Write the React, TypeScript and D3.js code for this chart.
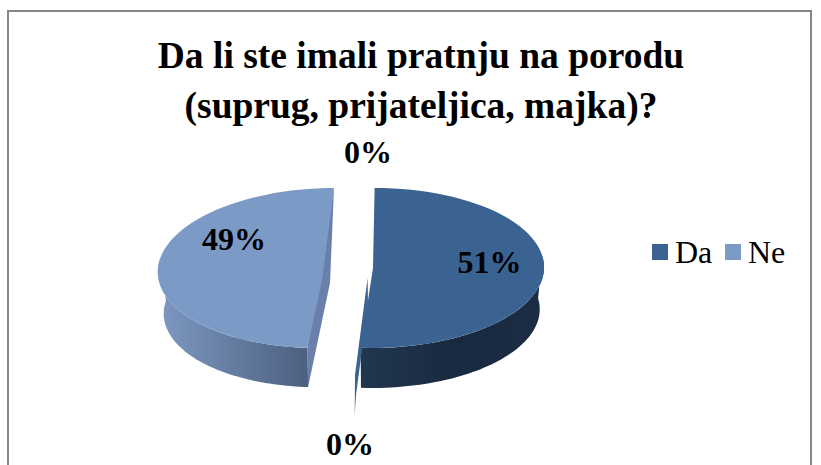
import React from "react";
import * as d3 from "d3";

const categories = ["Da", "Ne", "", ""];
const values = [51, 49, 0, 0];
const titleLines = ["Da li ste imali pratnju na porodu", "(suprug, prijateljica, majka)?"];
const labels = ["51%", "49%", "0%", "0%"];
const colors = ["#3a6392", "#7c9ac6"];

const W = 821, H = 465;
const pie = d3.pie<number>().sort(null)(values);
const depth = 42;

type G = { cx: number; cy: number; rx: number; ry: number; shear: number; shrink: number };
const geoms: G[] = [
  { cx: 373, cy: 268, rx: 171, ry: 80, shear: -0.02, shrink: 0.975 },
  { cx: 326, cy: 268, rx: 168, ry: 80, shear: -0.1, shrink: 0.965 },
];
const pt = (g: G, a: number, d = 0): [number, number] => {
  const s = d ? g.shrink : 1;
  const y = -Math.cos(a) * g.ry * s;
  const x = Math.sin(a) * g.rx * s + g.shear * y;
  return [g.cx + x, g.cy + y + d];
};
const line = d3.line();
const arcPts = (g: G, a0: number, a1: number, d = 0) =>
  d3.range(0, 61).map((i) => pt(g, a0 + ((a1 - a0) * i) / 60, d));

export default function App() {
  const [da, ne] = [pie[0], pie[1]];
  const g0 = geoms[0], g1 = geoms[1];
  const topR = line([[g0.cx, g0.cy], ...arcPts(g0, da.startAngle, da.endAngle)]) + "Z";
  const topL = line([[g1.cx - 4, g1.cy + 12], ...arcPts(g1, ne.startAngle, ne.endAngle)]) + "Z";
  const sideR = line([
    ...arcPts(g0, Math.PI / 2 - 0.15, da.endAngle),
    ...arcPts(g0, Math.PI / 2 - 0.15, da.endAngle, depth).reverse(),
  ]) + "Z";
  const sideL = line([
    ...arcPts(g1, ne.startAngle, (3 * Math.PI) / 2 + 0.12),
    ...arcPts(g1, ne.startAngle, (3 * Math.PI) / 2 + 0.12, depth).reverse(),
  ]) + "Z";
  const pS = pt(g1, ne.startAngle);
  const pB = pt(g1, ne.startAngle, depth);
  const pE = pt(g1, ne.endAngle);
  const cutL = line([pS, pB, [330, 283], pE]) + "Z";
  const sliver = line([[367.6, 278], [368, 303], [362, 350], [356, 395], [354.7, 416], [355, 375]]) + "Z";

  const serif = "'Liberation Serif', serif";
  return (
    <svg width={W} height={H} style={{ position: "absolute", left: 0, top: 0, background: "#fff" }}>
      <defs>
        <linearGradient id="sl" gradientUnits="userSpaceOnUse" x1="158" x2="310" y1="0" y2="0">
          <stop offset="0" stopColor="#7f99c3" />
          <stop offset="1" stopColor="#4b5f7e" />
        </linearGradient>
        <linearGradient id="sr" gradientUnits="userSpaceOnUse" x1="362" x2="544" y1="0" y2="0">
          <stop offset="0" stopColor="#21374f" />
          <stop offset="0.5" stopColor="#19293f" />
          <stop offset="1" stopColor="#1b2c44" />
        </linearGradient>
      </defs>
      <rect x="8" y="11" width="803" height="460" fill="#fff" stroke="#868686" strokeWidth="2" />
      <g fontFamily={serif} fontWeight="bold" fontSize="37.5" textAnchor="middle" fill="#000">
        {titleLines.map((t, i) => (
          <text key={i} x={421} y={68 + i * 50}>{t}</text>
        ))}
      </g>
      <path d={sideR} fill="url(#sr)" />
      <path d={sideL} fill="url(#sl)" />
      <path d={sliver} fill={colors[0]} />
      <path d={topR} fill={colors[0]} />
      <path d={cutL} fill="#6a80aa" />
      <path d={topL} fill={colors[1]} />
      <g fontFamily={serif} fontWeight="bold" fontSize="32" fill="#000" textAnchor="middle">
        <text x={489.5} y={273}>{labels[0]}</text>
        <text x={234} y={250}>{labels[1]}</text>
        <text x={368} y={163}>{labels[2]}</text>
        <text x={350} y={455}>{labels[3]}</text>
      </g>
      <g fontFamily={serif} fontSize="32" fill="#000">
        <rect x={652} y={244} width={16} height={16} fill={colors[0]} />
        <text x={675} y={263}>{categories[0]}</text>
        <rect x={725} y={244} width={16} height={16} fill={colors[1]} />
        <text x={748} y={263}>{categories[1]}</text>
      </g>
    </svg>
  );
}
